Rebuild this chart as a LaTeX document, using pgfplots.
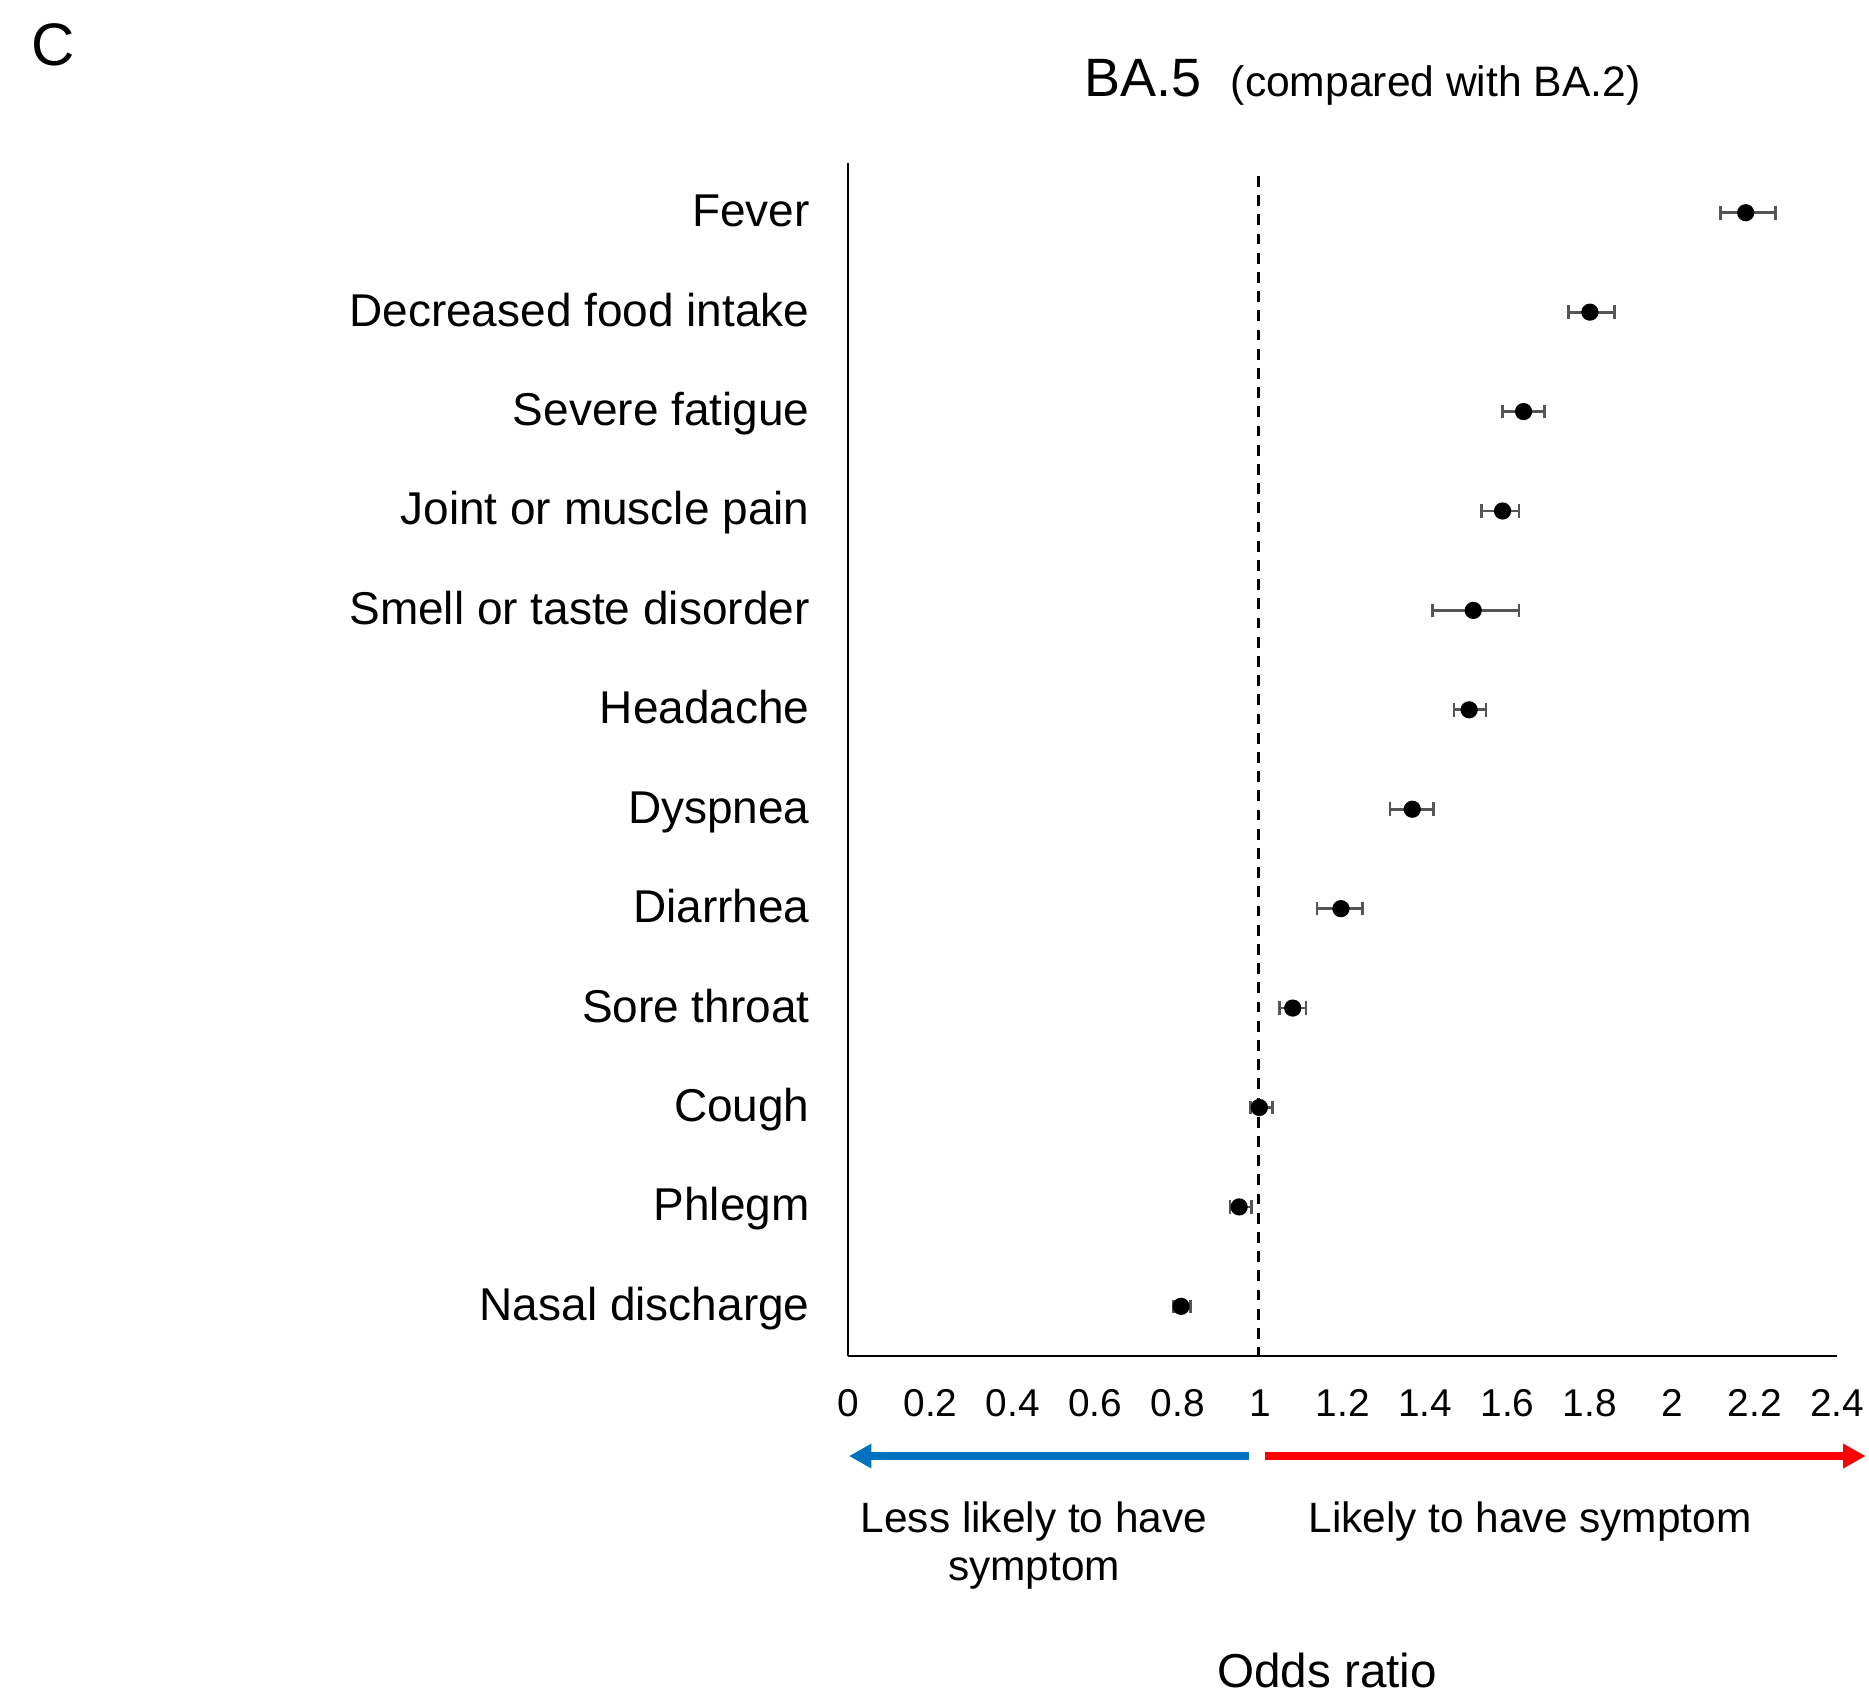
\documentclass[border=0pt]{standalone}
\usepackage{fontspec}
\setmainfont{Liberation Sans}
\usepackage{pgfplots}
\usepackage{pgfplotstable}
\pgfplotsset{compat=1.18}
\usetikzlibrary{arrows.meta}

\definecolor{arrblue}{HTML}{0070C0}
\definecolor{arrred}{HTML}{FF0000}
\definecolor{errgray}{HTML}{555555}

% pos = row (1 = bottom), or = odds ratio, ep/em = upper/lower CI distance
\pgfplotstableread{
pos or    ep    em
12  2.178 0.072 0.061
11  1.800 0.059 0.052
10  1.639 0.051 0.052
9   1.588 0.040 0.052
8   1.517 0.111 0.098
7   1.507 0.041 0.037
6   1.369 0.052 0.054
5   1.196 0.053 0.058
4   1.079 0.032 0.032
3   0.998 0.032 0.022
2   0.949 0.029 0.022
1   0.808 0.022 0.019
}\symptoms

\begin{document}
\begin{tikzpicture}
\useasboundingbox (0,0) rectangle (467.25pt,-423.5pt);
\begin{axis}[
    at={(212pt,-339pt)}, anchor=south west,
    scale only axis, width=247.3pt, height=298.25pt,
    xmin=0, xmax=2.4, ymin=0.5, ymax=12.5,
    axis x line=bottom, axis y line=left,
    axis line style={-, line width=0.6pt},
    major tick length=0pt,
    xtick={0,0.2,0.4,0.6,0.8,1,1.2,1.4,1.6,1.8,2,2.2,2.4},
    xticklabels={0,0.2,0.4,0.6,0.8,1,1.2,1.4,1.6,1.8,2,2.2,2.4},
    ytick={1,2,3,4,5,6,7,8,9,10,11,12},
    yticklabels={Nasal discharge,Phlegm,Cough,Sore throat,Diarrhea,Dyspnea,Headache,Smell or taste disorder,Joint or muscle pain,Severe fatigue,Decreased food intake,Fever},
    xticklabel style={font=\fontsize{9.7}{12}\selectfont, anchor=north, inner sep=0pt, yshift=-8.2pt},
    yticklabel style={font=\fontsize{11.5}{14}\selectfont, anchor=base east, inner sep=0pt, xshift=-9.4pt, yshift=-3.5pt},
    clip=false,
]
\draw[black, line width=0.7pt, dash pattern=on 2.7pt off 2.1pt] (axis cs:0.995,12.37) -- (axis cs:0.995,0.5);
\addplot[only marks, mark=*, mark size=1.95pt, black,
    error bars/.cd, x dir=both, x explicit,
    error bar style={errgray, line width=0.7pt},
    error mark options={rotate=90, mark size=1.7pt, errgray, line width=0.7pt}]
    table[x=or, y=pos, x error plus=ep, x error minus=em]{\symptoms};
\end{axis}

\node[font=\fontsize{15}{18}\selectfont, inner sep=0pt] at (13.4pt,-11.3pt) {C};
\node[anchor=base west, inner sep=0pt, font=\fontsize{13.5}{16}\selectfont] at (271pt,-24pt) {BA.5};
\node[anchor=base west, inner sep=0pt, font=\fontsize{10.65}{13}\selectfont] at (307.5pt,-24pt) {(compared with BA.2)};

\draw[arrblue, line width=1.9pt, -{Triangle[length=5.6pt,width=5.8pt]}] (312.3pt,-364pt) -- (212.25pt,-364pt);
\draw[arrred, line width=1.9pt, -{Triangle[length=5.6pt,width=5.8pt]}] (316.2pt,-364pt) -- (466.4pt,-364pt);

\node[anchor=base, inner sep=0pt, font=\fontsize{10.6}{13}\selectfont] at (258.5pt,-383pt) {Less likely to have};
\node[anchor=base, inner sep=0pt, font=\fontsize{10.6}{13}\selectfont] at (258.5pt,-395pt) {symptom};
\node[anchor=base, inner sep=0pt, font=\fontsize{10.6}{13}\selectfont] at (382.5pt,-383pt) {Likely to have symptom};
\node[anchor=base, inner sep=0pt, font=\fontsize{11.9}{14}\selectfont] at (331.75pt,-421.75pt) {Odds ratio};
\end{tikzpicture}
\end{document}
